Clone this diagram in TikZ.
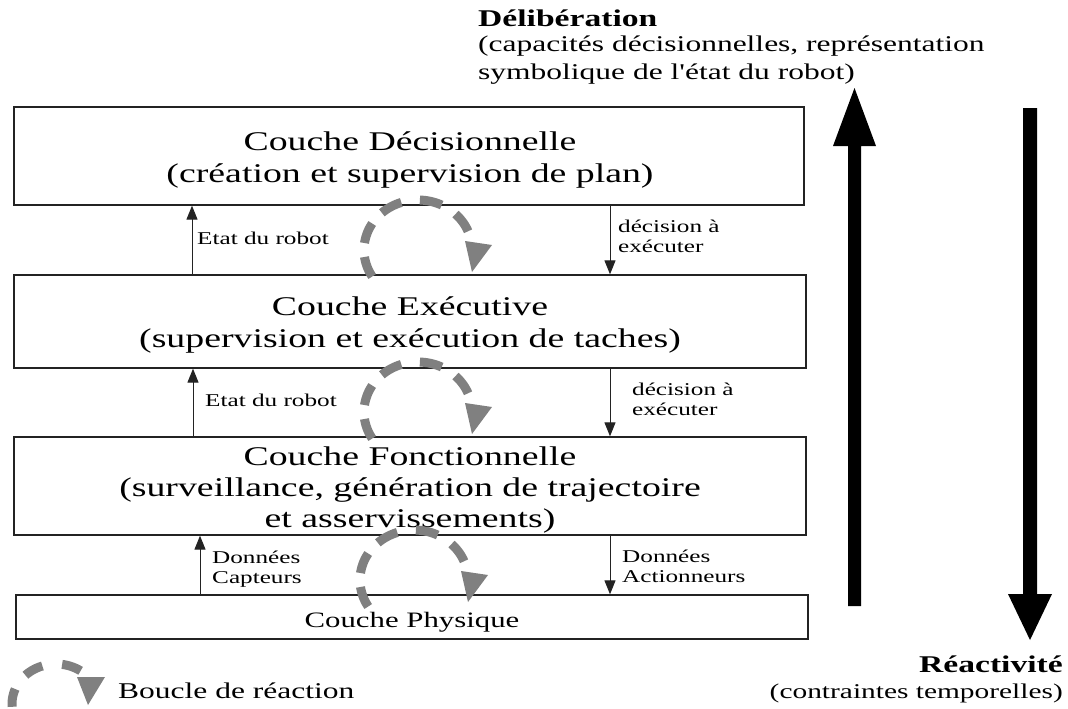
\documentclass[tikz,border=0pt]{standalone}
\usepackage{fontspec}
\setmainfont{Liberation Serif}[FakeStretch=1.4, Ligatures=TeXOff]
\usetikzlibrary{arrows.meta}

\definecolor{loopgray}{RGB}{128,128,128}
\definecolor{framegray}{RGB}{35,35,35}

\tikzset{
  layer/.style={draw=framegray, line width=1.3pt, inner sep=0pt, fill=white},
  title/.style={font=\fontsize{27}{31}\selectfont, inner sep=0pt, anchor=base},
  small/.style={font=\fontsize{18}{20}\selectfont, inner sep=0pt, anchor=base west},
  side/.style={font=\fontsize{22.5}{26}\selectfont, inner sep=0pt},
  heading/.style={font=\bfseries\fontsize{24}{26}\selectfont, inner sep=0pt},
  conn/.style={draw=framegray, line width=1pt, -{Triangle[length=14pt,width=11pt]}},
  loopdash/.style={draw=loopgray, line width=9pt},
  reaction loop/.pic={
    \foreach \s in {148,188,228,272,314}
      \draw[loopdash] plot[domain=\s:\s+24, samples=10] ({54*cos(\x)},{50*sin(\x)});
    \fill[loopgray] (47,-9) -- (74,-5) -- (54,22) -- cycle;
  }
}

\begin{document}
\begin{tikzpicture}[x=1pt, y=-1pt]
\useasboundingbox (0,0) rectangle (1068,709);

% the four layers
\node[layer, minimum width=790pt, minimum height=98pt] (dec) at (409,156) {};
\node[layer, minimum width=792pt, minimum height=93pt] (exe) at (410,321.5) {};
\node[layer, minimum width=792pt, minimum height=98pt] (fon) at (410,486) {};
\node[layer, minimum width=792pt, minimum height=44pt] (phy) at (412,617) {};

% layer titles
\node[title] (dec1) at (410,150) {Couche Décisionnelle};
\node[title] (dec2) at (410,182) {(création et supervision de plan)};
\node[title] (exe1) at (410,315) {Couche Exécutive};
\node[title] (exe2) at (410,347) {(supervision et exécution de taches)};
\node[title] (fon1) at (410,465) {Couche Fonctionnelle};
\node[title] (fon2) at (410,496) {(surveillance, génération de trajectoire};
\node[title] (fon3) at (410,527) {et asservissements)};
\node[title, font=\fontsize{22}{26}\selectfont] (phy1) at (412,627) {Couche Physique};

% exchanges between layers
\coordinate (up1) at (192,0);
\coordinate (up2) at (193,0);
\coordinate (up3) at (200,0);
\coordinate (dn) at (610,0);
\draw[conn] (exe.north -| up1) -- (dec.south -| up1);
\draw[conn] (fon.north -| up2) -- (exe.south -| up2);
\draw[conn] (phy.north -| up3) -- (fon.south -| up3);
\draw[conn] (dec.south -| dn) -- (exe.north -| dn);
\draw[conn] (exe.south -| dn) -- (fon.north -| dn);
\draw[conn] (fon.south -| dn) -- (phy.north -| dn);

\node[small] (e1) at (197,244) {Etat du robot};
\node[small] (e2) at (205,406) {Etat du robot};
\node[small] (c1) at (212,563) {Données};
\node[small] (c2) at (212,583) {Capteurs};
\node[small] (d1) at (618,232) {décision à};
\node[small] (d2) at (618,252) {exécuter};
\node[small] (d3) at (632,395) {décision à};
\node[small] (d4) at (632,415) {exécuter};
\node[small] (a1) at (622,562) {Données};
\node[small] (a2) at (622,582) {Actionneurs};

% reaction loops
\pic at (418,250) {reaction loop};
\pic at (418,412) {reaction loop};
\pic at (414,580) {reaction loop};

% legend
\foreach \s in {176,226,278}
  \draw[loopdash] plot[domain=\s:\s+26, samples=10] ({56+44*cos(\x)},{704+40*sin(\x)});
\fill[loopgray] (77,677) -- (105,677) -- (88,705) -- cycle;
\node[side, anchor=base west] (leg) at (118,698) {Boucle de réaction};

% deliberation / reactivity axis
\fill[black] (848,606) -- (848,146) -- (833,146) -- (854.5,88) -- (876,146) -- (861,146) -- (861,606) -- cycle;
\fill[black] (1023,108) -- (1037,108) -- (1037,594) -- (1052,594) -- (1030,640) -- (1008,594) -- (1023,594) -- cycle;

\node[heading, anchor=base west] (delib) at (478,27) {Délibération};
\node[side, anchor=base west] (delib1) at (478,52) {(capacités décisionnelles, représentation};
\node[side, anchor=base west] (delib2) at (478,79) {symbolique de l'état du robot)};
\node[heading, anchor=base east] (react) at (1063,672) {Réactivité};
\node[side, anchor=base east, font=\fontsize{21}{25}\selectfont] (react1) at (1063,698) {(contraintes temporelles)};
\end{tikzpicture}
\end{document}
